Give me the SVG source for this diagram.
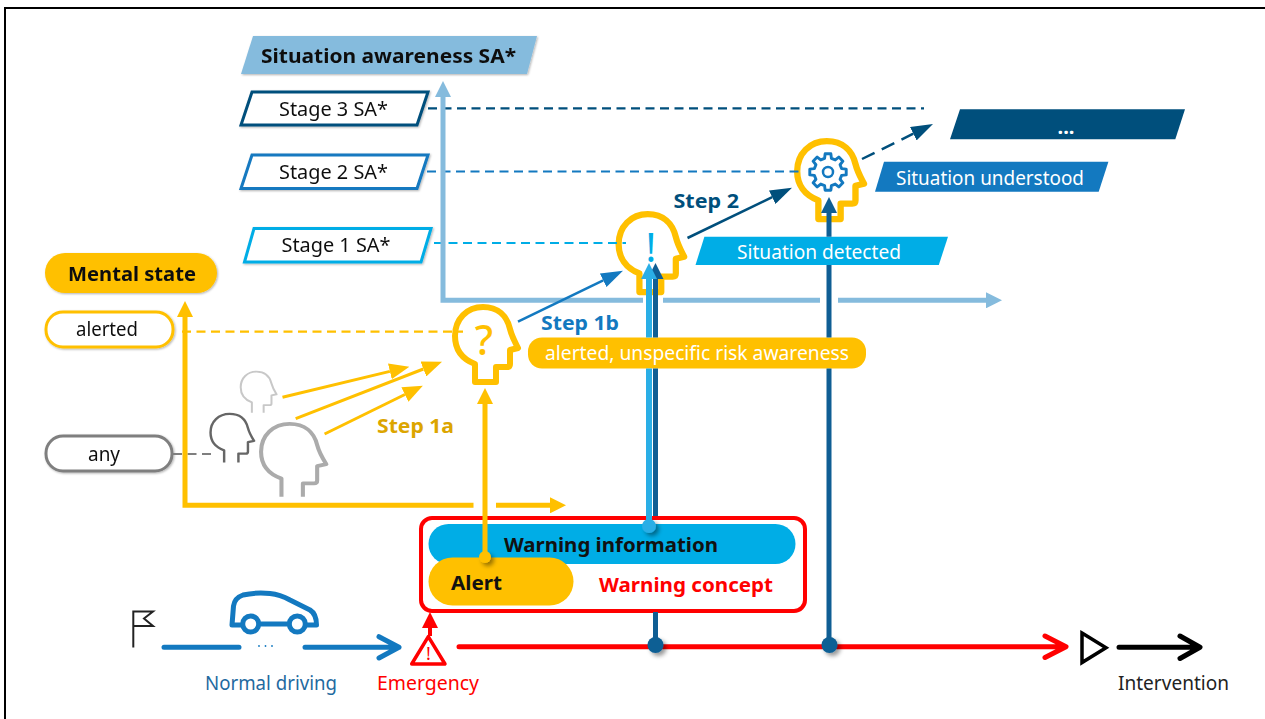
<svg xmlns="http://www.w3.org/2000/svg" xmlns:xlink="http://www.w3.org/1999/xlink" width="1265" height="719" viewBox="0 0 1265 719">
<style>
text{font-family:"Noto Sans","DejaVu Sans",sans-serif;font-size:20px;fill:#111}
.b{font-weight:700}
.w{fill:#fff}
.head{fill:none;stroke:#FFC000;stroke-width:6;stroke-linejoin:round}
.ghead{fill:none;stroke-linejoin:round}
.dash{fill:none;stroke-width:2.200;stroke-dasharray:9 5.500}
.line{fill:none;stroke-linecap:butt;stroke-linejoin:miter}
.open{fill:none;stroke-width:5;stroke-linecap:round;stroke-linejoin:round}
.shadow{filter:url(#sh)}
.dotshadow{filter:url(#sh2)}
</style>
<defs>
<filter id="sh" x="-10%" y="-20%" width="120%" height="140%"><feDropShadow dx="1" dy="1" stdDeviation="1" flood-opacity="0.3"/></filter>
<filter id="sh2" x="-60%" y="-60%" width="240%" height="240%"><feDropShadow dx="3" dy="3" stdDeviation="2" flood-opacity="0.4"/></filter>
<path id="hc" d="M23,78 L23,60 C10,55 3,45 3,32 C3,15 15,3 31,3 C46,3 55,12 58,25 C60,33 63,38 66,44 L58,46 L58,60 Q58,63 55,63 L44,63 L44,78 Z"/>
<path id="ho" d="M23,79 L23,60 C10,55 3,45 3,32 C3,15 15,3 31,3 C46,3 55,12 58,25 C60,33 64,40 67,45 L58,47 L58,62 Q58,65 55,65 L44,65 L44,79"/>
<marker id="my" markerUnits="userSpaceOnUse" markerWidth="16" markerHeight="16" refX="0" refY="8" orient="auto-start-reverse"><path d="M0,0 L16,8 L0,16 Z" fill="#FFC000"/></marker>
<marker id="my2" markerUnits="userSpaceOnUse" markerWidth="20" markerHeight="16" refX="0" refY="8" orient="auto"><path d="M0,0 L20,8 L0,16 Z" fill="#FFC000"/></marker>
<marker id="ms" markerUnits="userSpaceOnUse" markerWidth="16" markerHeight="16" refX="0" refY="8" orient="auto-start-reverse"><path d="M0,0 L16,8 L0,16 Z" fill="#85BBDD"/></marker>
<marker id="ml" markerUnits="userSpaceOnUse" markerWidth="16" markerHeight="16" refX="0" refY="8" orient="auto-start-reverse"><path d="M0,0 L16,8 L0,16 Z" fill="#2AAEE6"/></marker>
<marker id="md" markerUnits="userSpaceOnUse" markerWidth="16" markerHeight="16" refX="0" refY="8" orient="auto-start-reverse"><path d="M0,0 L16,8 L0,16 Z" fill="#0F5E94"/></marker>
<marker id="mr" markerUnits="userSpaceOnUse" markerWidth="16" markerHeight="16" refX="0" refY="8" orient="auto-start-reverse"><path d="M0,0 L16,8 L0,16 Z" fill="#FF0000"/></marker>
<marker id="mb" markerUnits="userSpaceOnUse" markerWidth="22" markerHeight="15" refX="0" refY="7.500" orient="auto"><path d="M0,0 L22,7.500 L0,15 Z" fill="#1379C0"/></marker>
<marker id="mn" markerUnits="userSpaceOnUse" markerWidth="22" markerHeight="15" refX="0" refY="7.500" orient="auto"><path d="M0,0 L22,7.500 L0,15 Z" fill="#004F7C"/></marker>
</defs>
<rect width="1265" height="719" fill="#fff"/>
<path id="frame" d="M5,719 L5,8 L1265,8" fill="none" stroke="#000" stroke-width="2"/>

<g id="node-title" class="shadow"><path d="M253,36 L537,36 L527,74 L241,74 Z" fill="#85BBDD"/><text class="b" x="261" y="63" textLength="255" lengthAdjust="spacingAndGlyphs">Situation awareness SA*</text></g>
<g id="node-stage3" class="shadow"><path d="M252,92 L428,92 L417,125 L241,125 Z" fill="#fff" stroke="#004F7C" stroke-width="3"/><text x="279" y="116" textLength="109" lengthAdjust="spacingAndGlyphs">Stage 3 SA*</text></g>
<g id="node-stage2" class="shadow"><path d="M252,155 L428,155 L417,188.500 L241,188.500 Z" fill="#fff" stroke="#1379C0" stroke-width="3"/><text x="279" y="179" textLength="109" lengthAdjust="spacingAndGlyphs">Stage 2 SA*</text></g>
<g id="node-stage1" class="shadow"><path d="M254,228.500 L431,228.500 L421,262 L244.500,262 Z" fill="#fff" stroke="#00ADE6" stroke-width="3"/><text x="281.500" y="252" textLength="109" lengthAdjust="spacingAndGlyphs">Stage 1 SA*</text></g>
<g id="node-mental" class="shadow"><rect x="45" y="253" width="172" height="40" rx="20" fill="#FFC000"/><text class="b" x="68" y="281" textLength="128" lengthAdjust="spacingAndGlyphs">Mental state</text></g>
<g id="node-alerted" class="shadow"><rect x="46" y="312" width="127" height="35" rx="17" fill="#fff" stroke="#FFC000" stroke-width="3"/><text x="76" y="336" textLength="62" lengthAdjust="spacingAndGlyphs">alerted</text></g>
<g id="node-any" class="shadow"><rect x="46" y="436" width="126" height="35" rx="17" fill="#fff" stroke="#7F7F7F" stroke-width="3"/><text x="88" y="461" textLength="32" lengthAdjust="spacingAndGlyphs">any</text></g>

<g id="node-head-light"><use xlink:href="#ho" href="#ho" class="ghead" transform="translate(239,370) scale(.56,.54)" stroke="#C8C8C8" stroke-width="3.600"/></g>
<g id="node-head-dark"><use xlink:href="#ho" href="#ho" class="ghead" transform="translate(208.500,412) scale(.68,.64)" stroke="#666" stroke-width="3.600"/></g>
<g id="node-head-large"><use xlink:href="#ho" href="#ho" class="ghead" transform="translate(258,421) scale(1.02,.96)" stroke="#ABABAB" stroke-width="4"/></g>
<g id="node-head-alerted"><use xlink:href="#hc" href="#hc" class="head" transform="translate(452,304)"/><text x="484" y="355" text-anchor="middle" style="font-size:41px;font-weight:500;fill:#FFC000">?</text></g>
<g id="node-head-detected"><use xlink:href="#hc" href="#hc" class="head" transform="translate(615.500,211) scale(1.04,1.04)"/><text x="651" y="262" text-anchor="middle" style="font-size:40px;fill:#00ADE6">!</text></g>
<g id="node-head-understood"><use xlink:href="#hc" href="#hc" class="head" transform="translate(794,138) scale(1.06,1.04)"/>
<path transform="translate(828,172) scale(.97)" fill="none" stroke="#1379C0" stroke-width="3" stroke-linejoin="round" d="M14.07,-3.51 L18.77,-2.97 L18.77,2.97 L14.07,3.51 L12.43,7.47 L15.37,11.17 L11.17,15.37 L7.47,12.43 L3.51,14.07 L2.97,18.77 L-2.97,18.77 L-3.51,14.07 L-7.47,12.43 L-11.17,15.37 L-15.37,11.17 L-12.43,7.47 L-14.07,3.51 L-18.77,2.97 L-18.77,-2.97 L-14.07,-3.51 L-12.43,-7.47 L-15.37,-11.17 L-11.17,-15.37 L-7.47,-12.43 L-3.51,-14.07 L-2.97,-18.77 L2.97,-18.77 L3.51,-14.07 L7.47,-12.43 L11.17,-15.37 L15.37,-11.17 L12.43,-7.47 Z"/><circle cx="828" cy="172" r="5" fill="none" stroke="#1379C0" stroke-width="2.500"/></g>

<g id="node-more"><path d="M960,109.300 L1185,109.300 L1175.300,139.300 L950,139.300 Z" fill="#004F7C"/><text class="b w" x="1066" y="134" text-anchor="middle">...</text></g>
<g id="node-understood"><path d="M884,161.700 L1108.400,161.700 L1098.700,191.700 L875,191.700 Z" fill="#1379C0"/><text class="w" x="896" y="185" textLength="188" lengthAdjust="spacingAndGlyphs">Situation understood</text></g>
<g id="node-detected"><path d="M704.400,236.700 L948,236.700 L938.800,265 L695.500,265 Z" fill="#00ADE6"/><text class="w" x="737" y="259" textLength="164" lengthAdjust="spacingAndGlyphs">Situation detected</text></g>
<g id="node-unspecific"><rect x="528" y="337.500" width="338" height="31" rx="14" fill="#FFC000"/><text class="w" x="545" y="360" textLength="304" lengthAdjust="spacingAndGlyphs">alerted, unspecific risk awareness</text></g>

<g id="node-warning-concept"><rect x="421" y="518" width="384" height="93" rx="11" fill="#fff" stroke="#FF0000" stroke-width="4"/><text class="b" x="599" y="592" textLength="174" lengthAdjust="spacingAndGlyphs" style="fill:#FF0000">Warning concept</text></g>
<g id="node-warning-information"><rect x="428.500" y="524" width="367" height="40" rx="20" fill="#00ADE6"/><text class="b" x="504" y="552" textLength="214" lengthAdjust="spacingAndGlyphs">Warning information</text></g>
<g id="node-alert"><rect x="428.500" y="557.500" width="145" height="48" rx="24" fill="#FFC000"/><text class="b" x="451" y="590" textLength="51" lengthAdjust="spacingAndGlyphs">Alert</text></g>

<g id="node-start"><path d="M133.300,647.500 L133.300,611.500 L153,611.500 L144,618.500 L153,626 L133.300,626" fill="none" stroke="#222" stroke-width="2"/></g>
<g id="node-car"><path d="M232,625 L233.500,606 Q234.500,598 243,595 Q256,592 270,593.500 Q280,594.500 290,600 L310,610 Q316.500,614 316.500,625 L307,625 M288,624 L260,624 M241,625 L232,625" fill="none" stroke="#1379C0" stroke-width="5" stroke-linejoin="round" stroke-linecap="round"/><circle cx="250.700" cy="624" r="8" fill="#fff" stroke="#1379C0" stroke-width="5"/><circle cx="297.300" cy="624" r="8" fill="#fff" stroke="#1379C0" stroke-width="5"/></g>
<g id="node-normal-driving"><text x="205" y="690" textLength="132" lengthAdjust="spacingAndGlyphs" style="fill:#1F6A9F">Normal driving</text><circle cx="259" cy="646" r="0.900" fill="#1379C0"/><circle cx="265.500" cy="646" r="0.900" fill="#1379C0"/><circle cx="272" cy="646" r="0.900" fill="#1379C0"/></g>
<g id="node-emergency"><path d="M428.300,636.700 L445,664 L411.700,664 Z" fill="#fff" stroke="#FF0000" stroke-width="3.500" stroke-linejoin="round"/><text x="428.300" y="660" text-anchor="middle" style="font-size:18px;fill:#FF0000">!</text><text x="377" y="690" textLength="102" lengthAdjust="spacingAndGlyphs" style="fill:#FF0000">Emergency</text></g>
<g id="node-intervention"><path d="M1082,633 L1106,647.700 L1082,662.500 Z" fill="#fff" stroke="#000" stroke-width="3.500"/><text x="1118" y="690" textLength="111" lengthAdjust="spacingAndGlyphs" style="fill:#222">Intervention</text></g>

<text class="b" x="377" y="433" textLength="77" lengthAdjust="spacingAndGlyphs" style="fill:#DCA500">Step 1a</text>
<text class="b" x="541" y="330" textLength="78" lengthAdjust="spacingAndGlyphs" style="fill:#1379C0">Step 1b</text>
<text class="b" x="673.500" y="208" textLength="65.500" lengthAdjust="spacingAndGlyphs" style="fill:#004F7C">Step 2</text>

<g id="connectors">
<path class="dash" stroke="#004F7C" d="M428,108.300 H924"/>
<path class="dash" stroke="#1379C0" d="M427,171.500 H800"/>
<path class="dash" stroke="#00ADE6" d="M434,243 H626"/>
<path class="dash" stroke="#FFC000" d="M182,331.700 H463"/>
<path class="dash" stroke="#7F7F7F" d="M173,454 H211"/>

<path class="line" stroke="#85BBDD" stroke-width="5" d="M643,300.300 H443 V97" marker-end="url(#ms)"/>
<path class="line" stroke="#85BBDD" stroke-width="5" d="M663,300.300 H820"/>
<path class="line" stroke="#85BBDD" stroke-width="5" d="M838,300.300 H986" marker-end="url(#ms)"/>

<path class="line" stroke="#FFC000" stroke-width="5" d="M473.500,505.300 H185 V317" marker-end="url(#my)"/>
<path class="line" stroke="#FFC000" stroke-width="5" d="M496,505.300 H550" marker-end="url(#my)"/>

<path class="line" stroke="#FFC000" stroke-width="3" d="M282.500,397.300 L389.900,371.400" marker-end="url(#my2)"/>
<path class="line" stroke="#FFC000" stroke-width="3" d="M295.700,418.700 L423.400,369" marker-end="url(#my2)"/>
<path class="line" stroke="#FFC000" stroke-width="3" d="M324.600,434 L404.900,394.500" marker-end="url(#my2)"/>

<path class="line" stroke="#1379C0" stroke-width="2.500" d="M518,321.700 L603.200,280.300" marker-end="url(#mb)"/>
<path class="line" stroke="#004F7C" stroke-width="2.500" d="M687.500,238 L772.200,197.200" marker-end="url(#mn)"/>
<path class="line" stroke="#004F7C" stroke-width="2.500" stroke-dasharray="14 8" d="M862,159 L913.300,133.700" marker-end="url(#mn)"/>

<path class="line" stroke="#FFC000" stroke-width="5" d="M485,404 V557" marker-start="url(#my)"/>
<circle class="dotshadow" cx="485" cy="557" r="6" fill="#FFC000"/>

<path class="line" stroke="#0F5E94" stroke-width="5" d="M655.500,279 V337.500 M655.500,368.500 V516 M655.500,612 V645" marker-start="url(#md)"/>
<path class="line" stroke="#2AAEE6" stroke-width="6" d="M649,279 V337.500 M649,368.500 V526" marker-start="url(#ml)"/>
<circle class="dotshadow" cx="649" cy="526" r="7" fill="#2AAEE6"/>
<path class="line" stroke="#0F5E94" stroke-width="5" d="M829,213 V236.700 M829,265 V337.500 M829,368.500 V645" marker-start="url(#md)"/>

<path class="line" stroke="#FF0000" stroke-width="4" d="M430,636 V628" marker-end="url(#mr)"/>

<path class="open" stroke="#1379C0" d="M164,647.300 H239 M305,647.300 H399 M379,636.700 L399,647.300 L379,658"/>
<path class="open" stroke="#FF0000" d="M459,646.700 H1064 M1045,636 L1066,646.700 L1045,657.500"/>
<path class="open" stroke="#000" d="M1119,647.300 H1198 M1180,636 L1200,647.300 L1180,658.500"/>
<circle class="dotshadow" cx="655.500" cy="645" r="8" fill="#0F5E94"/>
<circle class="dotshadow" cx="829.500" cy="645" r="8" fill="#0F5E94"/>
</g>
</svg>
